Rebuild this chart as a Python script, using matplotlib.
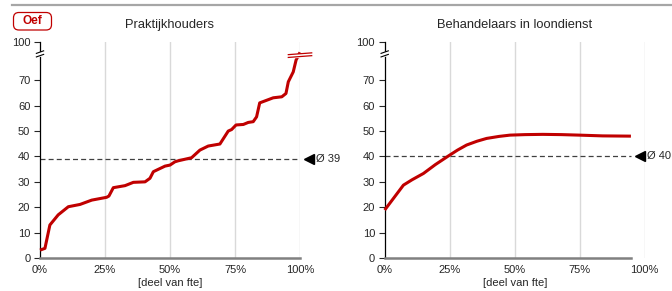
import numpy as np
import matplotlib
matplotlib.use("Agg")
import matplotlib.pyplot as plt
from matplotlib.patches import FancyBboxPatch

plt.rcParams['font.family'] = ['Liberation Sans', 'DejaVu Sans']

# data
prak_x = [0, 1.9, 3.8, 7.0, 10.9, 15.4, 19.9, 25.6, 26.5, 28.2, 32.7, 35.9, 40.4,
          42.3, 43.6, 48.1, 50.0, 51.9, 53.2, 58.3, 61.5, 64.7, 69.2, 72.4, 73.7,
          75.4, 78.2, 80.1, 82.0, 83.3, 84.5, 89.7, 93.0, 94.6, 95.5, 97.4, 98.5, 100]
prak_y = [3.1, 3.8, 13.0, 17.0, 20.2, 21.1, 22.8, 23.9, 24.4, 27.7, 28.5, 29.8, 30.0,
          31.4, 34.0, 36.2, 36.6, 37.9, 38.3, 39.5, 42.5, 44.1, 44.9, 50.0, 50.6,
          52.4, 52.6, 53.4, 53.7, 55.6, 61.1, 63.1, 63.5, 64.8, 69.4, 73.3, 78.0, 81.0]
prak_avg = 39

beh_x = [0, 7.2, 10.5, 14.9, 19.5, 24.5, 28.0, 31.5, 35.5, 39.2, 44.0, 48.2,
         54.0, 60.8, 68.0, 74.8, 83.8, 94.7]
beh_y = [18.9, 28.7, 30.8, 33.3, 36.8, 40.2, 42.5, 44.5, 46.0, 47.1, 47.9, 48.4,
         48.6, 48.7, 48.6, 48.4, 48.1, 48.0]
beh_avg = 40

titles = ["Praktijkhouders", "Behandelaars in loondienst"]
y_ticks = [0, 10, 20, 30, 40, 50, 60, 70]
x_ticks = [0, 25, 50, 75, 100]
x_tick_labels = ["0%", "25%", "50%", "75%", "100%"]

red = "#C00000"
txt = "#262626"
y_top = 85.2   # position of the "100" label above the axis break

W, H = 672, 291
fig = plt.figure(figsize=(W / 100, H / 100), dpi=100)

# top rule and "Oef" tag
fig.add_artist(plt.Line2D([12 / W, 1.0], [1 - 4.7 / H] * 2, color="#a6a6a6", lw=1.6))
tag = FancyBboxPatch((13.5 / W, 1 - 30 / H), 38 / W, 17.5 / H,
                     boxstyle="round,pad=0,rounding_size=0.008",
                     transform=fig.transFigure, fc="white", ec=red, lw=0.9,
                     mutation_aspect=W / H)
fig.add_artist(tag)
fig.text(32.5 / W, 1 - 21 / H, "Oef", color=red, fontsize=8.5, fontweight="bold",
         ha="center", va="center")

panels = [(prak_x, prak_y, prak_avg, 40 / W), (beh_x, beh_y, beh_avg, 384.7 / W)]

for i, (xs, ys, avg, left) in enumerate(panels):
    ax = fig.add_axes([left, 1 - 258 / H, 260 / W, (258 - 41.7) / H])
    ax.set_xlim(0, 100)
    ax.set_ylim(0, y_top)
    x_end = xs[-1]

    for gx in x_ticks[1:]:
        ax.axvline(gx, color="#d9d9d9", lw=1, zorder=0)

    ax.plot(xs, ys, color=red, lw=2.2, zorder=3, clip_on=False,
            solid_capstyle="butt", solid_joinstyle="round")

    # average line, marker and label
    ax.plot([0, x_end], [avg, avg], color="#404040", lw=0.9, ls=(0, (4, 2.5)), zorder=2)
    ax.plot(x_end + 3.6, avg, marker="<", color="black", ms=6.5, clip_on=False)
    ax.text(x_end + 6.2, avg, "Ø %d" % avg, fontsize=8, va="center", ha="left", color=txt)

    ax.set_yticks(y_ticks + [y_top])
    ax.set_yticklabels([str(t) for t in y_ticks] + ["100"])
    ax.set_xticks(x_ticks)
    ax.set_xticklabels(x_tick_labels)
    ax.tick_params(axis="y", length=4, width=0.8, pad=3, labelsize=8, colors=txt)
    ax.tick_params(axis="x", length=0, pad=5, labelsize=8, colors=txt)
    ax.set_xlabel("[deel van fte]", fontsize=8, color=txt, labelpad=2)

    for s in ["top", "right"]:
        ax.spines[s].set_visible(False)
    ax.spines["left"].set_color("black")
    ax.spines["left"].set_linewidth(0.9)
    ax.spines["bottom"].set_color("#808080")
    ax.spines["bottom"].set_linewidth(1.8)
    ax.spines["bottom"].set_bounds(0, x_end)

    # axis break marks on the y-axis
    tr = ax.get_yaxis_transform()
    ax.fill_between([-0.02, 0.02], [79.2, 80.2], [80.6, 81.6], color="white",
                    transform=tr, clip_on=False, zorder=4)
    for yb in (79.2, 80.6):
        ax.plot([-0.014, 0.014], [yb, yb + 1.0], color="black", lw=0.8,
                transform=tr, clip_on=False, zorder=5)

    ax.set_title(titles[i], fontsize=9.3, color=txt, pad=10)

# break marks on the curve that runs past the break
ax0 = fig.axes[0]
ax0.fill_between([96, 104], [79.0, 79.6], [80.1, 80.7], color="white",
                 clip_on=False, zorder=4)
for yb in (79.0, 80.1):
    ax0.plot([95.5, 104.5], [yb, yb + 0.7], color=red, lw=0.9, clip_on=False, zorder=5)

fig.savefig("out.png", dpi=100)
